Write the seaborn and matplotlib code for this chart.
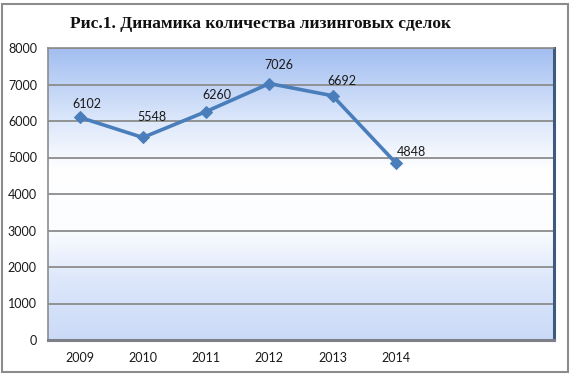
import numpy as np
import matplotlib
matplotlib.use("Agg")
import matplotlib.pyplot as plt
import seaborn as sns
from matplotlib.colors import LinearSegmentedColormap
from matplotlib.patches import Rectangle

# data
years = ["2009", "2010", "2011", "2012", "2013", "2014"]
deals = [6102, 5548, 6260, 7026, 6692, 4848]
n_slots = 8  # category axis has two empty slots on the right
y_ticks = [0, 1000, 2000, 3000, 4000, 5000, 6000, 7000, 8000]

sns.set_theme(style="white")
plt.rcParams["font.family"] = ["Lato", "DejaVu Sans"]

fig = plt.figure(figsize=(5.71, 3.74), dpi=100)
ax = fig.add_axes([48 / 571, 1 - 340 / 374, 506 / 571, 292 / 374])

# gradient background of the plot area
grad = LinearSegmentedColormap.from_list(
    "bg",
    [(0.0, "#cbdaf7"), (0.2, "#dce7fb"), (0.38, "#fbfdff"),
     (0.58, "#ffffff"), (0.75, "#dde8fb"), (1.0, "#a2bef0")])
ax.imshow(np.linspace(0, 1, 256).reshape(-1, 1), cmap=grad, origin="lower",
          extent=[0, 1, 0, 1], transform=ax.transAxes, aspect="auto", zorder=0)

x = np.arange(len(years))
for yv in y_ticks[1:]:
    ax.axhline(yv, color="#8c8c8c", lw=1.3, zorder=1)

sns.lineplot(x=x, y=deals, ax=ax, color="#4a7ebb", lw=2.6, marker="D",
             markersize=6.5, markeredgecolor="#4a7ebb", zorder=3)

# label offsets (points) as placed in the original
offsets = [(5, 9.5), (6.5, 14.4), (8, 12.2), (6.5, 13), (6.5, 10.8), (11.5, 8)]
for xi, v, off in zip(x, deals, offsets):
    ax.annotate(str(v), (xi, v), xytext=off, textcoords="offset points",
                ha="center", va="center", fontsize=9, color="#1a1a1a", zorder=4)

ax.set_xlim(-0.5, n_slots - 0.5)
ax.set_ylim(0, 8000)
ax.set_xticks(x)
ax.set_xticklabels(years)
ax.set_yticks(y_ticks)
ax.tick_params(axis="both", length=0, labelsize=9, colors="#1a1a1a")
ax.tick_params(axis="x", pad=9)
ax.tick_params(axis="y", pad=8)

for side in ["top", "left"]:
    ax.spines[side].set_color("#8c8c8c")
    ax.spines[side].set_linewidth(1.2)
ax.spines["bottom"].set_color("#7f7f8a")
ax.spines["bottom"].set_linewidth(2.2)
ax.spines["right"].set_color("#3e5a7e")
ax.spines["right"].set_linewidth(2.2)

fig.text(261 / 571, 1 - 24 / 374, "Рис.1. Динамика количества лизинговых сделок",
         ha="center", va="center", fontsize=12.5, fontweight="bold",
         family="Liberation Serif", color="#111111")

fig.patches.append(Rectangle((2 / 571, 2 / 374), 566 / 571, 368 / 374,
                             transform=fig.transFigure, fill=False,
                             edgecolor="#8c8c8c", lw=1.5))

fig.savefig("out.png", dpi=100)
